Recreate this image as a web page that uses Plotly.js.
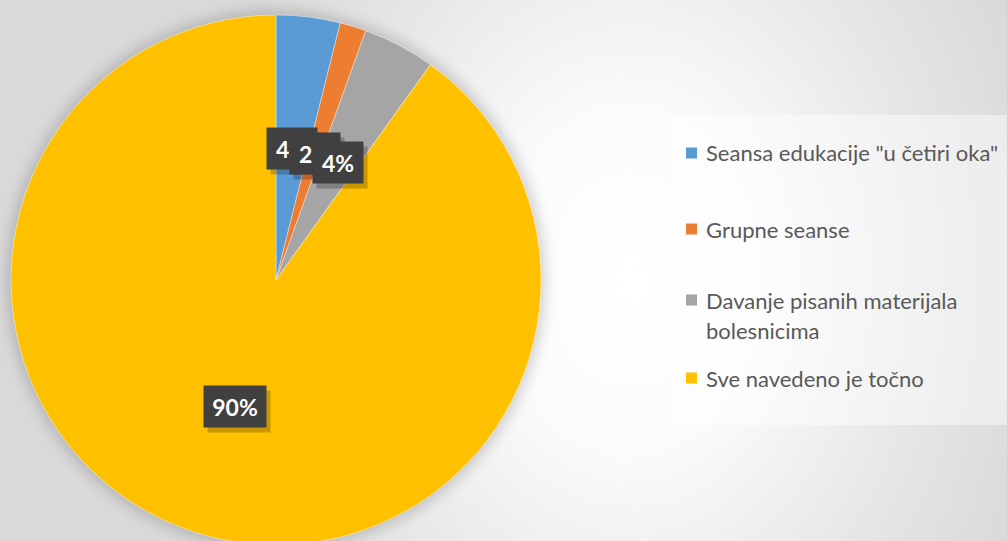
<!DOCTYPE html>
<html>
<head>
<meta charset="utf-8">
<script src="https://cdn.plot.ly/plotly-3.0.1.min.js"></script>
<style>
  html, body { margin: 0; padding: 0; width: 1007px; height: 541px; overflow: hidden; }
  body {
    background: radial-gradient(ellipse 430px 560px at 630px 280px, #ffffff 0%, #fbfbfb 30%, #e6e6e6 70%, #d9d9d9 100%);
    background-color: #dadada;
    position: relative;
  }
  #shadow { position: absolute; border-radius: 50%; box-shadow: 0 0 14px 4px rgba(0,0,0,0.18); }
  #chart { position: absolute; left: 0; top: 0; width: 1007px; height: 560px; }
</style>
</head>
<body>
<div id="shadow"></div>
<div id="chart"></div>
<script>
// ---- data ----
var categories = [
  'Seansa edukacije "u četiri oka"',
  'Grupne seanse',
  'Davanje pisanih materijala bolesnicima',
  'Sve navedeno je točno'
];
var values = [3.9, 1.6, 4.4, 90.1];
var colors = ['#5B9BD5', '#ED7D31', '#A5A5A5', '#FFC000'];
var legendLines = [
  ['Seansa edukacije "u četiri oka"'],
  ['Grupne seanse'],
  ['Davanje pisanih materijala', 'bolesnicima'],
  ['Sve navedeno je točno']
];

// ---- geometry / layout constants ----
var W = 1007, H = 560;
var pieLeft = 11, pieRight = 541;
var R = Math.min(pieRight - pieLeft, H) / 2;
var cx = (pieLeft + pieRight) / 2, cy = H / 2;

var sh = document.getElementById('shadow');
sh.style.left = (cx - R) + 'px'; sh.style.top = (cy - R) + 'px';
sh.style.width = (2 * R) + 'px'; sh.style.height = (2 * R) + 'px';

var total = values.reduce(function (a, b) { return a + b; }, 0);
var annotations = [];
var shapes = [];

// data labels at half radius, dark boxes
var cum = 0;
values.forEach(function (v, i) {
  var frac = v / total;
  var mid = (cum + frac / 2) * 2 * Math.PI;
  cum += frac;
  var px = cx + 0.5 * R * Math.sin(mid);
  var py = cy - 0.5 * R * Math.cos(mid);
  var txt = Math.round(frac * 100) + '%';
  var bw = txt.length > 2 ? 62 : 50, bh = 41;
  annotations.push({
    xref: 'paper', yref: 'paper', x: (px + 4) / W, y: 1 - (py + 5) / H,
    xanchor: 'center', yanchor: 'middle', showarrow: false,
    text: ' ', width: bw, height: bh, borderpad: 0,
    bgcolor: 'rgba(0,0,0,0.22)'
  });
  annotations.push({
    xref: 'paper', yref: 'paper', x: px / W, y: 1 - py / H,
    xanchor: 'center', yanchor: 'middle', showarrow: false,
    text: '<b>' + txt + '</b>', width: bw, height: bh, borderpad: 0,
    bgcolor: '#404040',
    font: { family: 'Lato, "Open Sans", sans-serif', size: 23, color: '#ffffff' }
  });
});

// legend (manual)
var legBox = { x0: 674, x1: 1007, y0: 115, y1: 425 };
shapes.push({
  type: 'rect', xref: 'paper', yref: 'paper',
  x0: legBox.x0 / W, x1: legBox.x1 / W, y0: 1 - legBox.y1 / H, y1: 1 - legBox.y0 / H,
  fillcolor: 'rgba(255,255,255,0.45)', line: { width: 0 }, layer: 'below'
});
var legY = [153, 229, 300, 378];
var lineGap = 30;
legendLines.forEach(function (lines, i) {
  var y = legY[i];
  shapes.push({
    type: 'rect', xref: 'paper', yref: 'paper',
    x0: 686 / W, x1: 697 / W, y0: 1 - (y + 5.5) / H, y1: 1 - (y - 5.5) / H,
    fillcolor: colors[i], line: { width: 0 }
  });
  lines.forEach(function (ln, j) {
    annotations.push({
      xref: 'paper', yref: 'paper', x: 704 / W, y: 1 - (y + j * lineGap) / H,
      xanchor: 'left', yanchor: 'middle', showarrow: false,
      text: ln,
      font: { family: 'Lato, "Open Sans", sans-serif', size: 22, color: '#595959' }
    });
  });
});

var trace = {
  type: 'pie',
  labels: categories,
  values: values,
  sort: false,
  direction: 'clockwise',
  rotation: 0,
  textinfo: 'none',
  hoverinfo: 'label+percent',
  marker: { colors: colors, line: { color: 'rgba(255,255,255,0.6)', width: 0.6 } },
  domain: { x: [pieLeft / W, pieRight / W], y: [0, 1] },
  showlegend: false
};

Plotly.newPlot('chart', [trace], {
  width: W, height: H,
  margin: { l: 0, r: 0, t: 0, b: 0 },
  paper_bgcolor: 'rgba(0,0,0,0)',
  plot_bgcolor: 'rgba(0,0,0,0)',
  showlegend: false,
  annotations: annotations,
  shapes: shapes
}, { displayModeBar: false, staticPlot: true });
</script>
</body>
</html>
